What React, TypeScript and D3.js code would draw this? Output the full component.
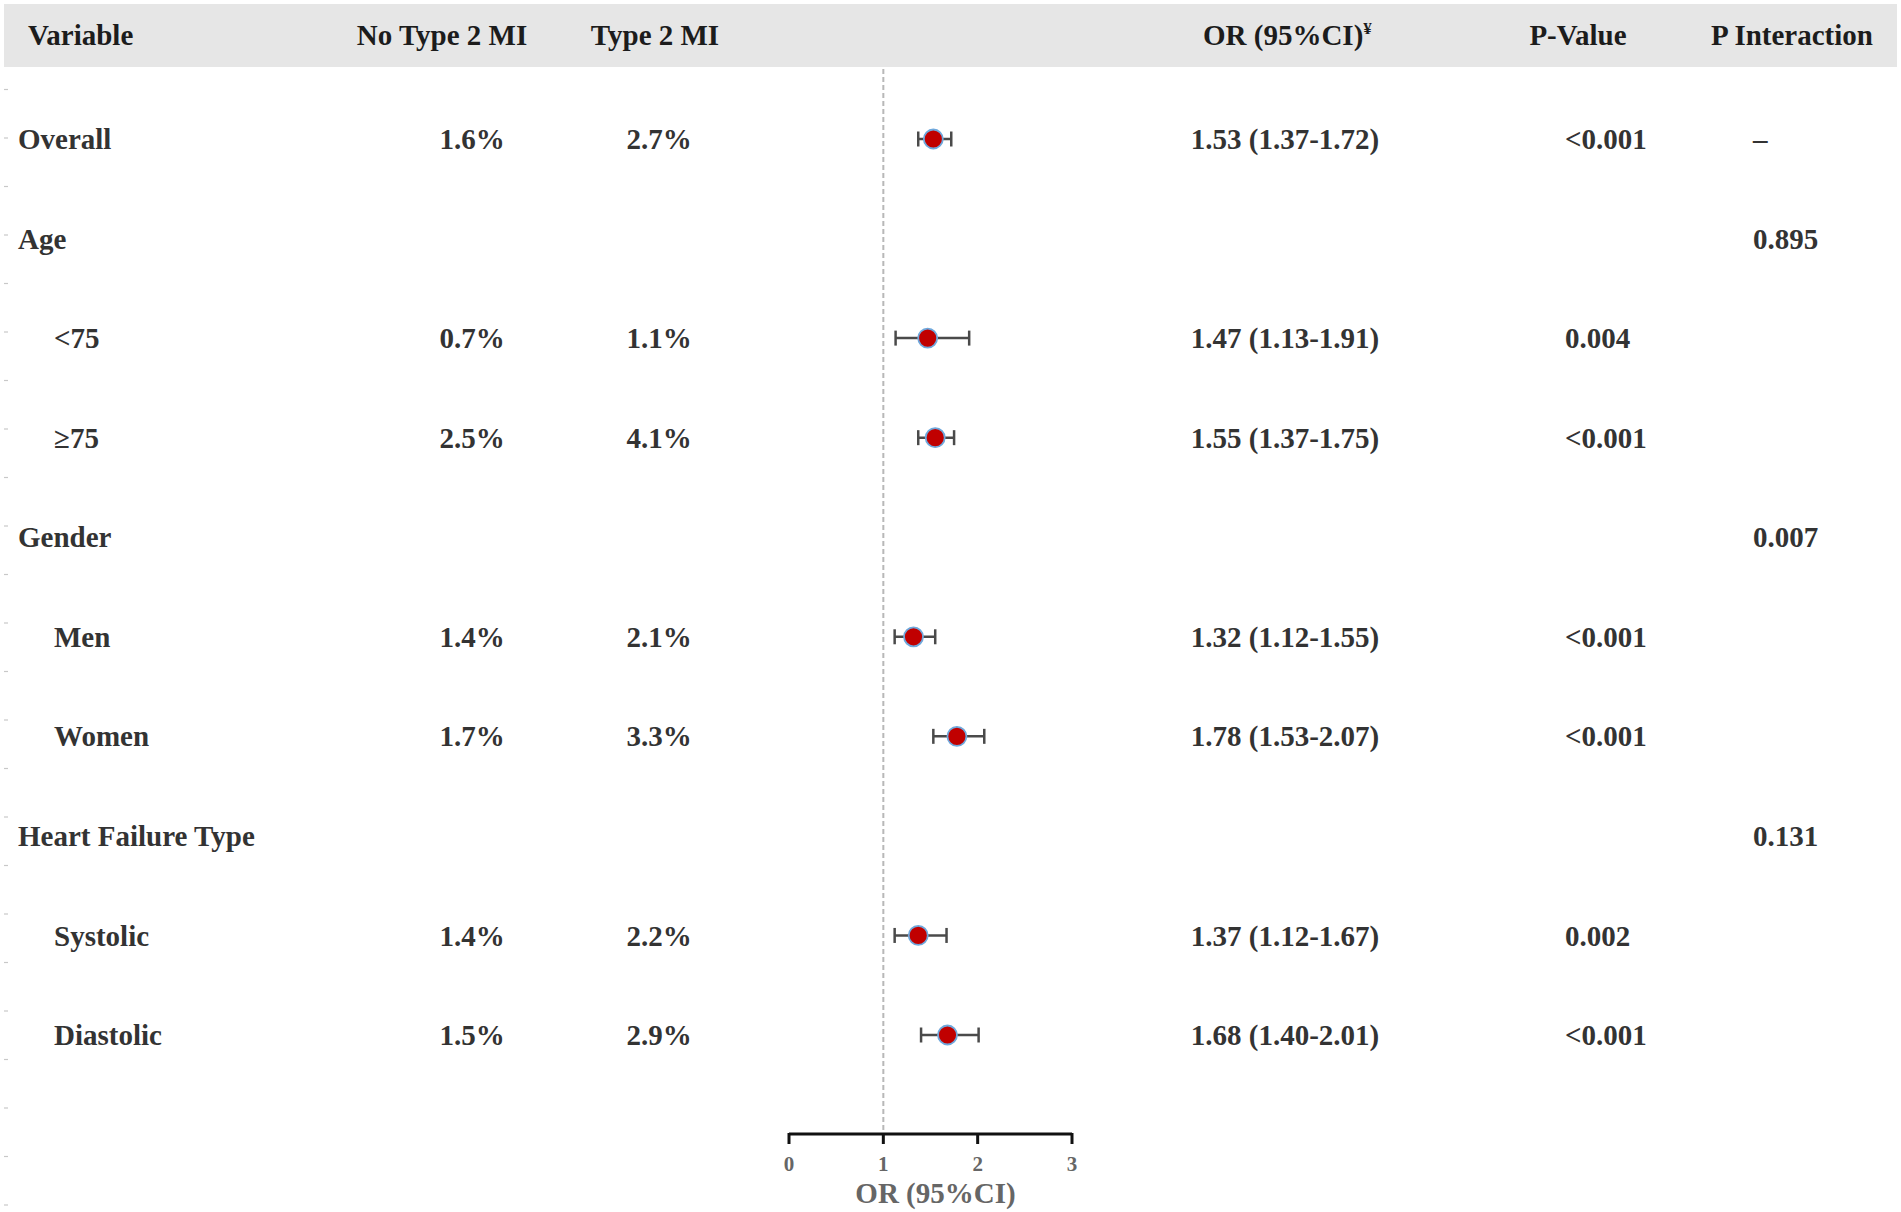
import React, { useEffect } from 'react';
import * as d3 from 'd3';

const labels = ['Overall', 'Age', '<75', '≥75', 'Gender', 'Men', 'Women', 'Heart Failure Type', 'Systolic', 'Diastolic'];
const isSub = [false, false, true, true, false, true, true, false, true, true];
const noType2 = ['1.6%', '', '0.7%', '2.5%', '', '1.4%', '1.7%', '', '1.4%', '1.5%'];
const type2 = ['2.7%', '', '1.1%', '4.1%', '', '2.1%', '3.3%', '', '2.2%', '2.9%'];
const orVal = [1.53, null, 1.47, 1.55, null, 1.32, 1.78, null, 1.37, 1.68];
const ciLo = [1.37, null, 1.13, 1.37, null, 1.12, 1.53, null, 1.12, 1.40];
const ciHi = [1.72, null, 1.91, 1.75, null, 1.55, 2.07, null, 1.67, 2.01];
const pValue = ['<0.001', '', '0.004', '<0.001', '', '<0.001', '<0.001', '', '0.002', '<0.001'];
const pInteraction = ['–', '0.895', '', '', '0.007', '', '', '0.131', '', ''];
const xTicks = [0, 1, 2, 3];

const W = 1901;
const H = 1212;
const FONT = '"Liberation Serif", "Times New Roman", serif';
const TXT = '#333333';

const App: React.FC = () => {
  useEffect(() => {
    document.body.style.margin = '0';
  }, []);

  const y = d3.scaleLinear().domain([0, labels.length - 1]).range([139, 1035]);
  const x = d3.scaleLinear().domain([0, 3]).range([789, 1072]);
  // faint ticks along the left edge
  const edge = d3.scaleLinear().domain([0, 23]).range([89.5, 1205]);
  const axisY = 1134;

  const fmt = (i: number) =>
    `${d3.format('.2f')(orVal[i] as number)} (${d3.format('.2f')(ciLo[i] as number)}-${d3.format('.2f')(ciHi[i] as number)})`;

  return (
    <svg width={W} height={H} style={{ display: 'block', background: '#fff' }} fontFamily={FONT}>
      {/* header band */}
      <rect x={4} y={4} width={1893} height={63} fill="#e6e6e6" />
      <g fontSize={29} fontWeight="bold" fill="#1c1c1c">
        <text x={28} y={45}>Variable</text>
        <text x={442} y={45} textAnchor="middle">No Type 2 MI</text>
        <text x={655} y={45} textAnchor="middle">Type 2 MI</text>
        <text x={1203} y={45}>
          OR (95%CI)<tspan fontSize={17} dy={-11}>¥</tspan>
        </text>
        <text x={1578} y={45} textAnchor="middle">P-Value</text>
        <text x={1792} y={45} textAnchor="middle">P Interaction</text>
      </g>

      {d3.range(24).map((k) => (
        <line key={'e' + k} x1={4} x2={8} y1={edge(k)} y2={edge(k)} stroke="#c8c8c8" strokeWidth={1.2} />
      ))}

      {/* reference line at OR = 1 */}
      <line x1={x(1)} x2={x(1)} y1={69} y2={axisY} stroke="#b8b8b8" strokeWidth={2} strokeDasharray="5,3" />

      {/* rows */}
      <g fontSize={29} fontWeight="bold" fill={TXT}>
        {labels.map((lab, i) => (
          <g key={lab}>
            <text x={isSub[i] ? 54 : 18} y={y(i)} dy="0.35em">{lab}</text>
            {noType2[i] && <text x={472} y={y(i)} dy="0.35em" textAnchor="middle">{noType2[i]}</text>}
            {type2[i] && <text x={659} y={y(i)} dy="0.35em" textAnchor="middle">{type2[i]}</text>}
            {orVal[i] != null && <text x={1285} y={y(i)} dy="0.35em" textAnchor="middle">{fmt(i)}</text>}
            {pValue[i] && <text x={1565} y={y(i)} dy="0.35em">{pValue[i]}</text>}
            {pInteraction[i] && <text x={1753} y={y(i)} dy="0.35em">{pInteraction[i]}</text>}
          </g>
        ))}
      </g>

      {/* CI bars and points */}
      {labels.map((lab, i) =>
        orVal[i] == null ? null : (
          <g key={'m' + lab} stroke="#4a4a4a" strokeWidth={2.5}>
            <line x1={x(ciLo[i] as number)} x2={x(ciHi[i] as number)} y1={y(i)} y2={y(i)} />
            <line x1={x(ciLo[i] as number)} x2={x(ciLo[i] as number)} y1={y(i) - 7.5} y2={y(i) + 7.5} />
            <line x1={x(ciHi[i] as number)} x2={x(ciHi[i] as number)} y1={y(i) - 7.5} y2={y(i) + 7.5} />
            <circle cx={x(orVal[i] as number)} cy={y(i)} r={9.5} fill="#c00000" stroke="#6fa8dc" strokeWidth={1.8} />
          </g>
        )
      )}

      {/* x axis */}
      <g>
        <line x1={x(0)} x2={x(3)} y1={axisY} y2={axisY} stroke="#111" strokeWidth={3} />
        {xTicks.map((t) => (
          <g key={'t' + t}>
            <line x1={x(t)} x2={x(t)} y1={axisY - 1} y2={axisY + 10} stroke="#111" strokeWidth={3} />
            <text x={x(t)} y={1171} textAnchor="middle" fontSize={21} fontWeight="bold" fill="#666">{t}</text>
          </g>
        ))}
        <text x={(x(0) + x(3)) / 2 + 5} y={1203} textAnchor="middle" fontSize={29} fontWeight="bold" fill="#666">
          OR (95%CI)
        </text>
      </g>
    </svg>
  );
};

export default App;
